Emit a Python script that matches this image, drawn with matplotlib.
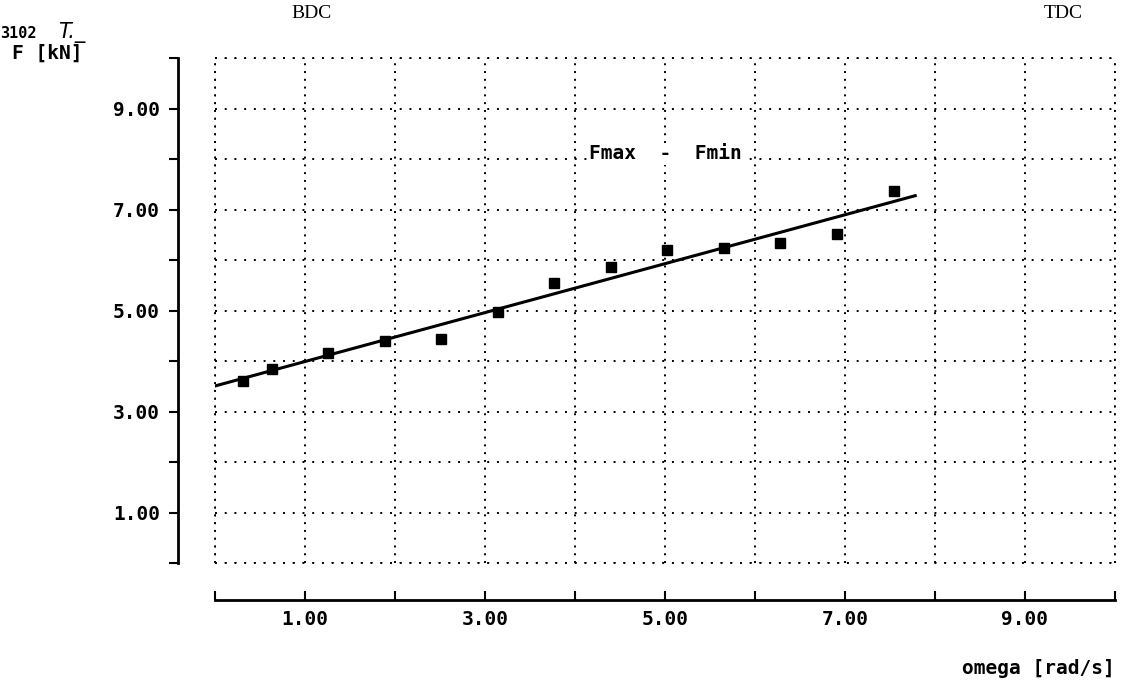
import numpy as np
import matplotlib.pyplot as plt
from matplotlib.ticker import FixedLocator, FuncFormatter

# =========================
# Datos
# =========================
omega = [0.314, 0.628, 1.257, 1.885, 2.513, 3.142, 3.770,
         4.398, 5.027, 5.655, 6.283, 6.912, 7.540]
f_diff = [3.61, 3.85, 4.15, 4.39, 4.43, 4.98, 5.55,
          5.87, 6.19, 6.23, 6.33, 6.52, 7.36]
fit_range = [0.0, 7.78]

x_ticks = list(range(0, 11))
y_ticks = list(range(0, 11))

mono = "DejaVu Sans Mono"
px = 72 / 100  # pixeles -> puntos

# =========================
# Figura
# =========================
fig = plt.figure(figsize=(11.35, 6.91), dpi=100)
ax = fig.add_axes([215 / 1135, 1 - 563 / 691, 900 / 1135, 505 / 691])

ax.set_xlim(0, 10)
ax.set_ylim(0, 10)

# ajuste lineal
coef = np.polyfit(omega, f_diff, 1)
xf = np.array(fit_range)
ax.plot(xf, np.polyval(coef, xf), color="black", lw=2.2, zorder=3)
ax.plot(omega, f_diff, "s", color="black", ms=7, zorder=4)

# rejilla punteada
ax.xaxis.set_major_locator(FixedLocator(x_ticks))
ax.yaxis.set_major_locator(FixedLocator(y_ticks))
ax.xaxis.grid(True, color="black", linestyle=(0, (1, 3)), lw=1.4)
ax.yaxis.grid(True, color="black", linestyle=(0, (1, 4)), lw=1.4)

odd_fmt = FuncFormatter(lambda v, p: f"{v:.2f}" if int(round(v)) % 2 == 1 else "")
ax.xaxis.set_major_formatter(odd_fmt)
ax.yaxis.set_major_formatter(odd_fmt)

for s in ["top", "right"]:
    ax.spines[s].set_visible(False)
ax.spines["left"].set_position(("outward", 37 * px))
ax.spines["bottom"].set_position(("outward", 37 * px))
ax.spines["left"].set_linewidth(2)
ax.spines["bottom"].set_linewidth(2)

ax.tick_params(axis="x", direction="in", length=9 * px, width=1.5, pad=10 * px)
ax.tick_params(axis="y", direction="out", length=9 * px, width=1.5, pad=9 * px)
for lab in ax.get_xticklabels() + ax.get_yticklabels():
    lab.set_fontfamily(mono)
    lab.set_fontweight("bold")
    lab.set_fontsize(14)

# borde punteado completo
for yv in (0, 10):
    ax.axhline(yv, color="black", linestyle=(0, (1, 4)), lw=1.4, clip_on=False)
for xv in (0, 10):
    ax.axvline(xv, color="black", linestyle=(0, (1, 3)), lw=1.4, clip_on=False)

# =========================
# Textos
# =========================
ax.text(5.0, 8.1, "Fmax  -  Fmin", ha="center", va="center",
        family=mono, fontweight="bold", fontsize=14,
        bbox=dict(facecolor="white", edgecolor="none", pad=1))
fig.text(12 / 1135, 1 - 53 / 691, "F [kN]", ha="left", va="center",
         family=mono, fontweight="bold", fontsize=14)
fig.text(1115 / 1135, 1 - 668 / 691, "omega [rad/s]", ha="right", va="center",
         family=mono, fontweight="bold", fontsize=14)
fig.text(312 / 1135, 1 - 14 / 691, "BDC", ha="center", va="center",
         family="Liberation Serif", fontsize=14)
fig.text(1063 / 1135, 1 - 14 / 691, "TDC", ha="center", va="center",
         family="Liberation Serif", fontsize=14)
fig.text(0, 1 - 38 / 691, "3102", ha="left", va="baseline",
         family=mono, fontweight="bold", fontsize=11)
fig.text(58 / 1135, 1 - 38 / 691, "T._", ha="left", va="baseline",
         family="DejaVu Sans", style="italic", fontsize=15)

fig.savefig("out.png", dpi=100)
